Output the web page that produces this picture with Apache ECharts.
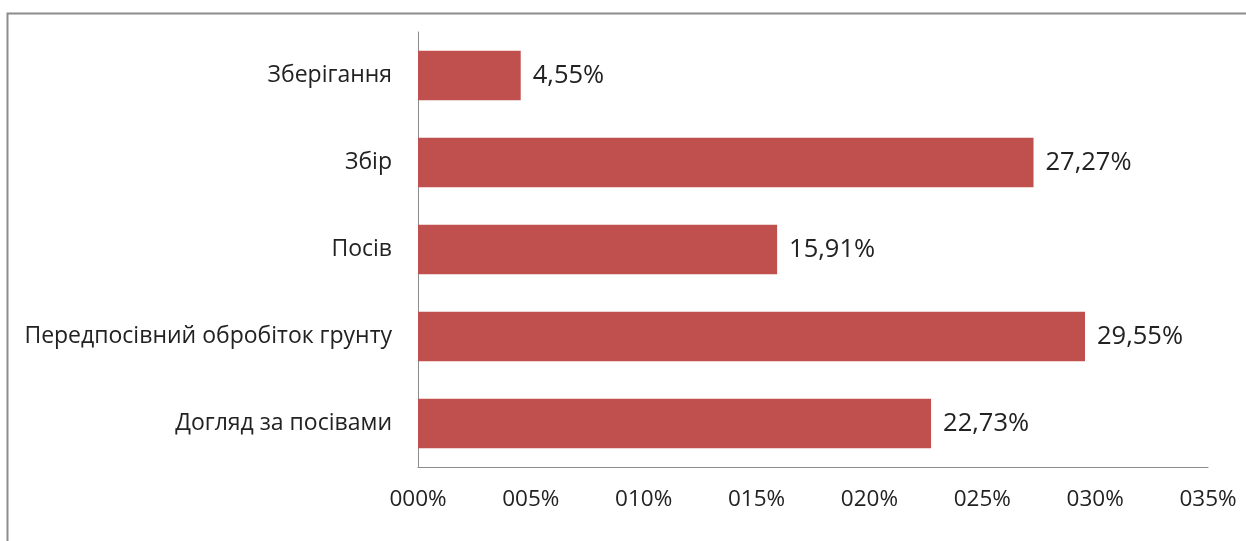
<!DOCTYPE html>
<html>
<head>
<meta charset="utf-8">
<script src="https://cdn.jsdelivr.net/npm/echarts@6/dist/echarts.min.js"></script>
<style>
html,body{margin:0;padding:0;background:#fff;}
#c{width:1246px;height:541px;}
</style>
</head>
<body>
<div id="c"></div>
<script>
var categories = ['Догляд за посівами', 'Передпосівний обробіток грунту', 'Посів', 'Збір', 'Зберігання'];
var values = [22.73, 29.55, 15.91, 27.27, 4.55];
var tickLabels = ['000%', '005%', '010%', '015%', '020%', '025%', '030%', '035%'];

var chart = echarts.init(document.getElementById('c'));
var font = '"Open Sans", Lato, sans-serif';
chart.setOption({
  animation: false,
  graphic: [{
    type: 'rect',
    shape: {x: 7.5, y: 13.5, width: 1300, height: 600},
    style: {fill: 'none', stroke: '#8c8c8c', lineWidth: 2}
  }],
  grid: {left: 418, right: 38, top: 32, bottom: 74},
  xAxis: {
    type: 'value', min: 0, max: 35, interval: 5,
    axisLine: {show: true, lineStyle: {color: '#8c8c8c', width: 1}},
    axisTick: {show: false},
    splitLine: {show: false},
    axisLabel: {
      margin: 21, color: '#222', fontFamily: font, fontSize: 22.5,
      formatter: function (v) { return tickLabels[Math.round(v / 5)]; }
    }
  },
  yAxis: {
    type: 'category', data: categories,
    axisLine: {show: true, lineStyle: {color: '#8c8c8c', width: 1}},
    axisTick: {show: false},
    axisLabel: {margin: 26, color: '#222', fontFamily: font, fontSize: 23}
  },
  series: [{
    type: 'bar', data: values, barWidth: '57%',
    itemStyle: {color: '#C0504D'},
    label: {
      show: true, position: 'right', distance: 12, color: '#222',
      fontFamily: font, fontSize: 25.5,
      formatter: function (p) { return p.value.toFixed(2).replace('.', ',') + '%'; }
    }
  }]
});
</script>
</body>
</html>
